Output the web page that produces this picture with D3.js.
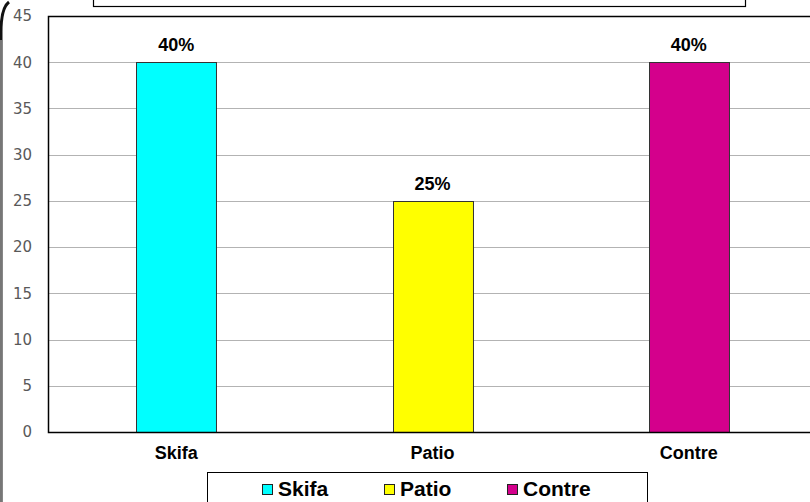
<!DOCTYPE html>
<html><head><meta charset="utf-8">
<script src="https://cdn.jsdelivr.net/npm/d3@7"></script>
<style>body{margin:0;background:#fff}svg{display:block}</style>
</head><body>
<script>
const categories = ["Skifa", "Patio", "Contre"];
const values = [40, 25, 40];
const valueLabels = ["40%", "25%", "40%"];
const colors = ["#00FFFF", "#FFFF00", "#D4008C"];
const yTicks = [0, 5, 10, 15, 20, 25, 30, 35, 40, 45];

const W = 810, H = 502;
const svg = d3.select("body").append("svg").attr("width", W).attr("height", H);
const font = "Arial, 'Liberation Sans', sans-serif";
const tickFont = "'DejaVu Sans', Verdana, sans-serif";

const pL = 48, pT = 16, pB = 432, pR = 817;
const x = d3.scaleBand().domain(categories).range([pL, pR]).paddingInner(0.688).paddingOuter(0.344);
const y = d3.scaleLinear().domain([0, 45]).range([pB, pT]);

// outer frame corner
svg.append("path").attr("d", "M9,2 Q1,8 1,32 L1,502").attr("fill", "none").attr("stroke", "#111").attr("stroke-width", 3);
svg.append("line").attr("x1", 1).attr("x2", 1).attr("y1", 40).attr("y2", 502).attr("stroke", "#777").attr("stroke-width", 2);

// top box (title area)
svg.append("rect").attr("x", 93.5).attr("y", -10).attr("width", 652).attr("height", 16.5)
  .attr("fill", "#fff").attr("stroke", "#000").attr("stroke-width", 1.2);

// gridlines
svg.append("g").selectAll("line").data(yTicks.filter(t => t > 0 && t < 45)).join("line")
  .attr("x1", pL).attr("x2", W).attr("y1", d => Math.round(y(d)) + 0.5).attr("y2", d => Math.round(y(d)) + 0.5)
  .attr("stroke", "#b3b3b3").attr("stroke-width", 1);

// y axis labels
const yAxis = d3.axisLeft(y).tickValues(yTicks).tickSize(0).tickPadding(16);
const ga = svg.append("g").attr("transform", `translate(${pL},0)`).call(yAxis);
ga.attr("font-size", null).attr("font-family", null);
ga.select(".domain").remove();
ga.selectAll("text").style("font-family", tickFont).style("font-size", "15px").attr("fill", "#595959");

// bars
svg.append("g").selectAll("rect").data(values).join("rect")
  .attr("x", (d, i) => Math.round(x(categories[i])) + 0.5)
  .attr("y", d => Math.round(y(d)) + 0.5)
  .attr("width", x.bandwidth())
  .attr("height", d => Math.round(y(0)) - Math.round(y(d)))
  .attr("fill", (d, i) => colors[i]).attr("stroke", "#333").attr("stroke-width", 1);

// value labels
svg.append("g").selectAll("text").data(values).join("text")
  .attr("x", (d, i) => x(categories[i]) + x.bandwidth() / 2)
  .attr("y", d => y(d) - 11)
  .attr("text-anchor", "middle").style("font-family", font).attr("font-weight", "bold").style("font-size", "18px")
  .attr("fill", "#000").text((d, i) => valueLabels[i]);

// plot border (top, left, bottom)
svg.append("path").attr("d", `M${W},${pT + 0.5} L${pL + 0.5},${pT + 0.5} L${pL + 0.5},${pB + 0.5} L${W},${pB + 0.5}`)
  .attr("fill", "none").attr("stroke", "#000").attr("stroke-width", 1.5);

// category labels
const xAxis = d3.axisBottom(x).tickSize(0).tickPadding(14);
const gx = svg.append("g").attr("transform", `translate(0,${pB})`).call(xAxis);
gx.attr("font-size", null).attr("font-family", null);
gx.select(".domain").remove();
gx.selectAll("text").style("font-family", font).attr("font-weight", "bold").style("font-size", "18px").attr("fill", "#000");

// legend
svg.append("rect").attr("x", 207.5).attr("y", 472.5).attr("width", 440).attr("height", 40)
  .attr("fill", "#fff").attr("stroke", "#000").attr("stroke-width", 1);
const legX = [262, 384, 507];
const lg = svg.append("g").selectAll("g").data(categories).join("g")
  .attr("transform", (d, i) => `translate(${legX[i]},0)`);
lg.append("rect").attr("x", 0.5).attr("y", 484.5).attr("width", 10).attr("height", 10)
  .attr("fill", (d, i) => colors[i]).attr("stroke", "#222").attr("stroke-width", 1);
lg.append("text").attr("x", 16).attr("y", 496).style("font-family", font).attr("font-weight", "bold")
  .style("font-size", "21px").attr("fill", "#000").text(d => d);
</script>
</body></html>
